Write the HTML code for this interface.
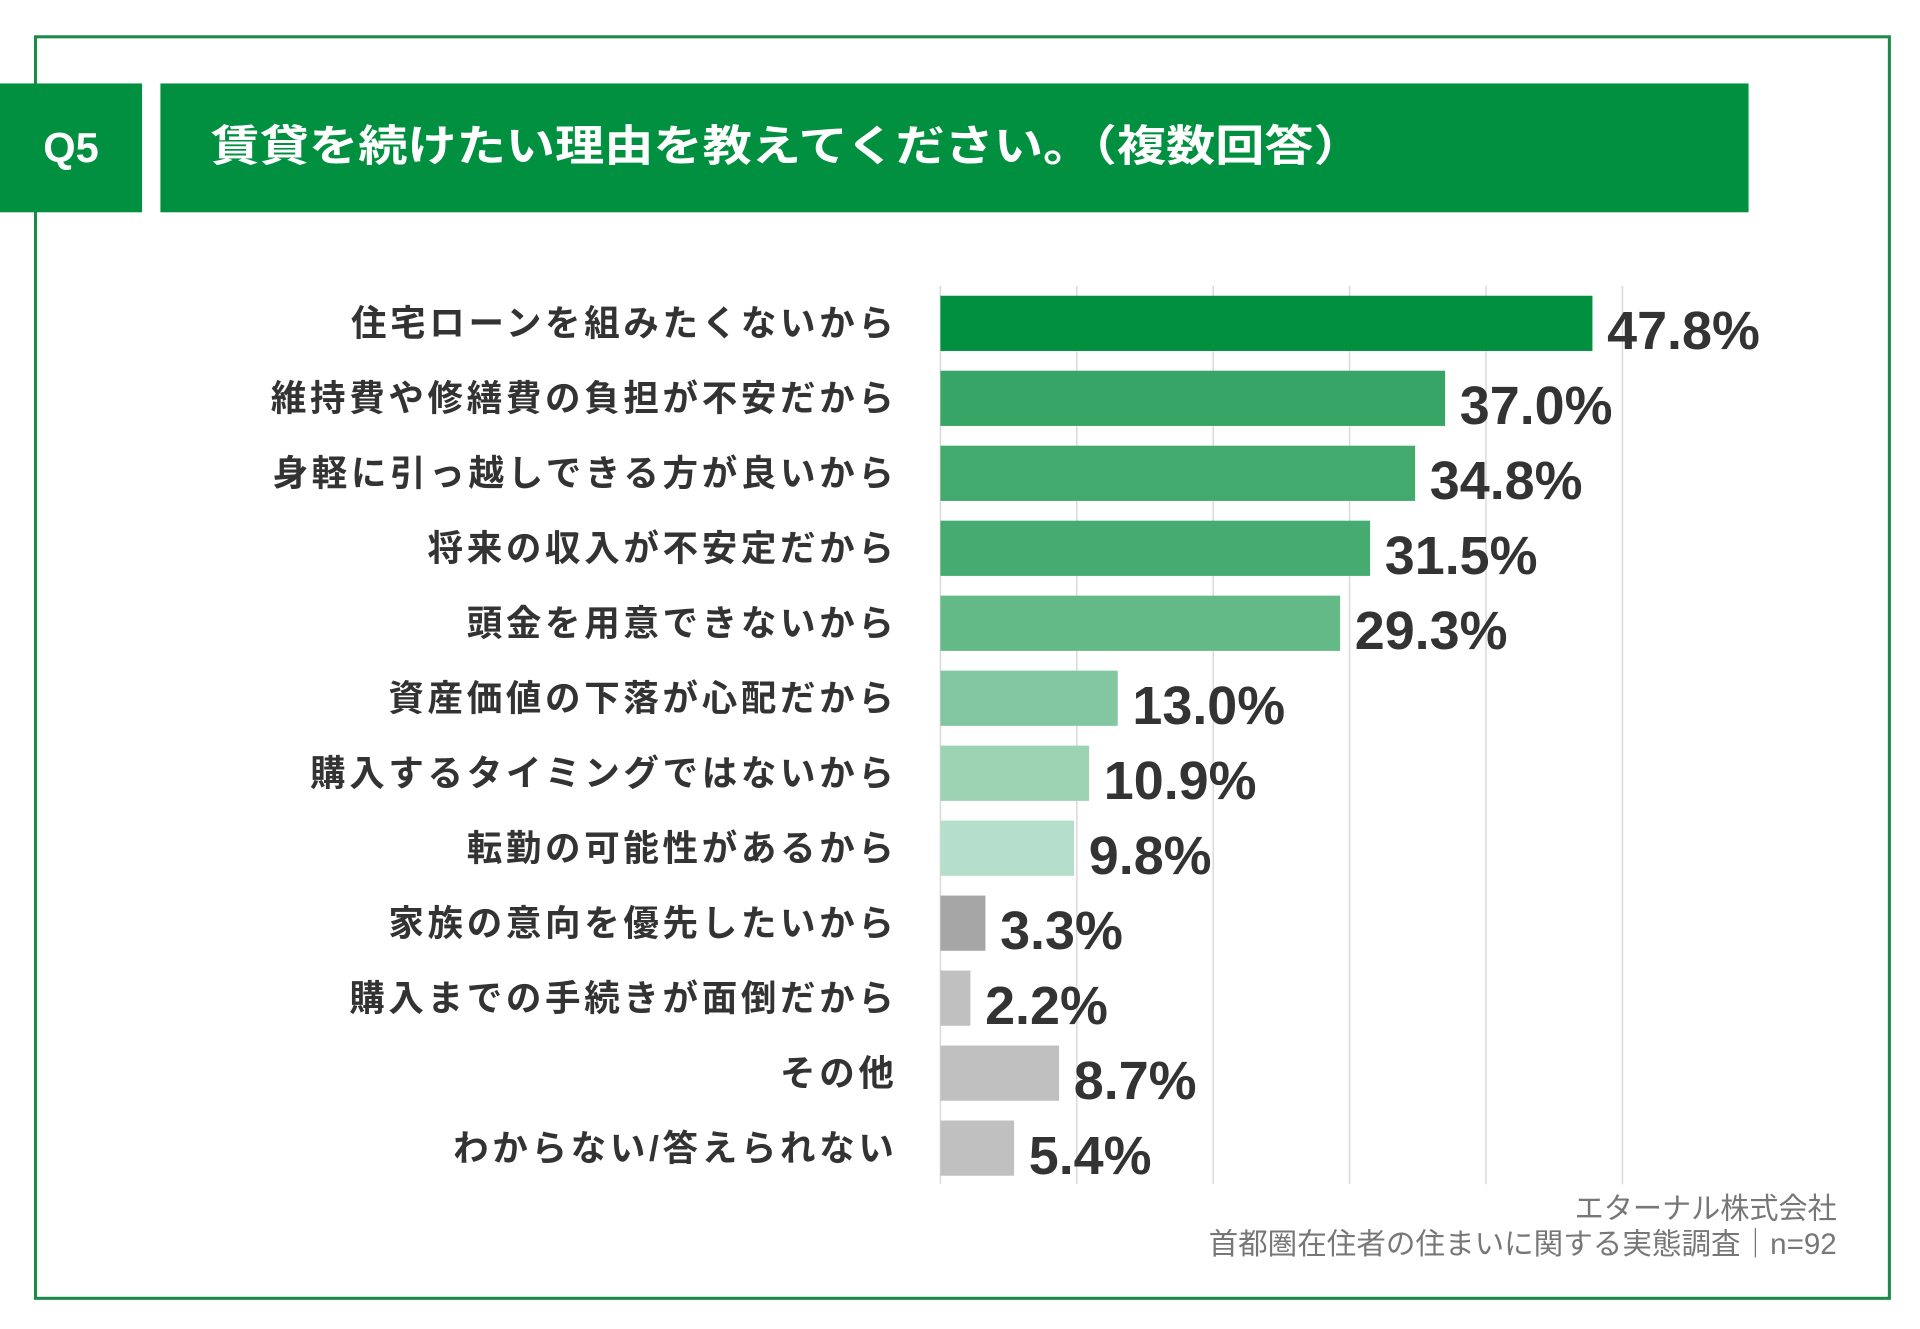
<!DOCTYPE html>
<html><head><meta charset="utf-8"><style>
html,body{margin:0;padding:0;background:#fff;}
svg{display:block;font-family:"Liberation Sans","Noto Sans CJK JP",sans-serif;}
</style></head><body>
<svg id="chart" width="1920" height="1329" viewBox="0 0 1568 1083" preserveAspectRatio="none">
<rect x="29" y="30" width="1514" height="1028" fill="#fff" stroke="#1e8a4a" stroke-width="2.5"/>
<rect x="0" y="68" width="116" height="105" fill="#009040"/>
<text x="58" y="132" fill="#fff" font-size="34" font-weight="bold" text-anchor="middle">Q5</text>
<rect x="131" y="68" width="1297" height="105" fill="#009040"/>
<text x="172" y="131" fill="#fff" font-size="35" font-weight="bold" textLength="941" lengthAdjust="spacingAndGlyphs">賃貸を続けたい理由を教えてください。（複数回答）</text>
<g id="grid"></g>
<g id="bars"></g>
<text x="1500" y="993" fill="#777" font-size="24" text-anchor="end" textLength="214" lengthAdjust="spacingAndGlyphs">エターナル株式会社</text>
<text x="1500" y="1022" fill="#777" font-size="24" text-anchor="end" textLength="513" lengthAdjust="spacingAndGlyphs">首都圏在住者の住まいに関する実態調査｜n=92</text>
</svg>
<script>
const categories = ["住宅ローンを組みたくないから","維持費や修繕費の負担が不安だから","身軽に引っ越しできる方が良いから","将来の収入が不安定だから","頭金を用意できないから","資産価値の下落が心配だから","購入するタイミングではないから","転勤の可能性があるから","家族の意向を優先したいから","購入までの手続きが面倒だから","その他","わからない/答えられない"];
const values = [47.8,37.0,34.8,31.5,29.3,13.0,10.9,9.8,3.3,2.2,8.7,5.4];
const colors = ["#009040","#37a565","#43aa6d","#46ab70","#63ba86","#82c7a0","#9dd3b3","#b5decb","#a6a6a6","#c0c0c0","#c0c0c0","#c0c0c0"];
const gridTicks = [0,10,20,30,40,50];
const NS="http://www.w3.org/2000/svg";
const x0=768, pxPer=11.14, yTop=241, pitch=61.1, bh=45;
const xs=v=>x0+v*pxPer;
const ys=i=>yTop+i*pitch;
const grid=document.getElementById('grid'), bars=document.getElementById('bars');
gridTicks.forEach(t=>{
  const l=document.createElementNS(NS,'line');
  l.setAttribute('x1',xs(t));l.setAttribute('x2',xs(t));
  l.setAttribute('y1',233);l.setAttribute('y2',965);
  l.setAttribute('stroke','#d9d9d9');l.setAttribute('stroke-width','1.2');
  
  
  grid.appendChild(l);
});
categories.forEach((c,i)=>{
  const y=ys(i);
  const r=document.createElementNS(NS,'rect');
  r.setAttribute('x',x0);r.setAttribute('y',y);
  r.setAttribute('width',xs(values[i])-x0);r.setAttribute('height',bh);
  r.setAttribute('fill',colors[i]);
  
  
  bars.appendChild(r);
  const t=document.createElementNS(NS,'text');
  t.setAttribute('x',733);t.setAttribute('y',y+bh/2+10);
  t.setAttribute('text-anchor','end');t.setAttribute('font-size','29');
  t.setAttribute('font-weight','bold');t.setAttribute('fill','#333');
  t.setAttribute('letter-spacing','3');
  t.textContent=c;
  
  
  bars.appendChild(t);
  const v=document.createElementNS(NS,'text');
  v.setAttribute('x',xs(values[i])+12);v.setAttribute('y',y+bh/2+21);
  v.setAttribute('font-size','44');v.setAttribute('font-weight','bold');
  v.setAttribute('fill','#333');
  v.textContent=values[i].toFixed(1)+'%';
  
  
  bars.appendChild(v);
});
</script>
</body></html>
